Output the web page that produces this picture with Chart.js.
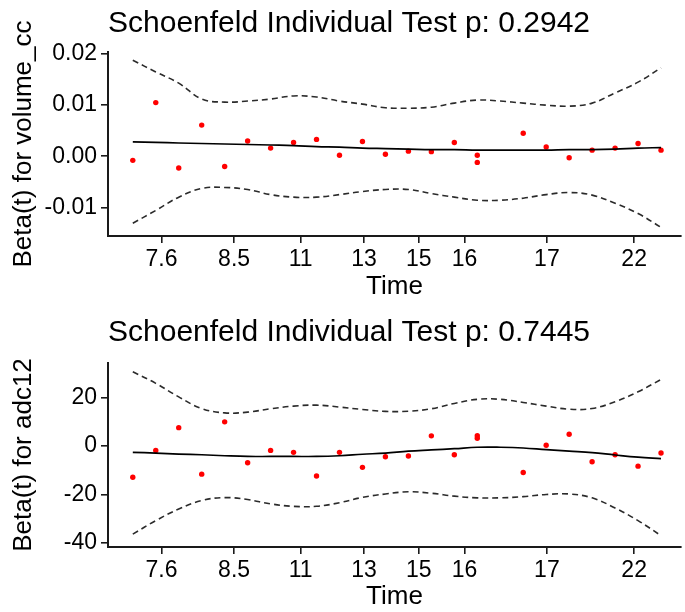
<!DOCTYPE html>
<html>
<head>
<meta charset="utf-8">
<script src="https://cdn.jsdelivr.net/npm/chart.js@4"></script>
<style>
  html, body { margin: 0; padding: 0; background: #fff; overflow: hidden; }
  .panel { width: 685px; height: 306px; position: relative; }
</style>
</head>
<body>
<div class="panel"><canvas id="chartTop"></canvas></div>
<div class="panel"><canvas id="chartBottom"></canvas></div>
<script>
// transformed time (rank) position of each residual; two residuals share rank 16
const pointRank = [1, 2, 3, 4, 5, 6, 7, 8, 9, 10, 11, 12, 13, 14, 15, 16, 16, 18, 19, 20, 21, 22, 23, 24];
const fitRank = [1, 2, 3, 4, 5, 6, 7, 8, 9, 10, 11, 12, 13, 14, 15, 16, 17, 18, 19, 20, 21, 22, 23, 24];

// x tick labels (original time) and where they sit on the transformed axis
const timeTickPos = [2.25, 5.41, 8.31, 11.07, 13.45, 15.44, 19.03, 22.83];
const timeTickLabels = ['7.6', '8.5', '11', '13', '15', '16', '17', '22'];

// volume_cc
const volResid = [-0.0008, 0.0105, -0.0023, 0.0061, -0.0020, 0.0030, 0.0016, 0.0027, 0.0033, 0.0002, 0.0029, 0.0004,
    0.0010, 0.0009, 0.0027, 0.0002, -0.0012, 0.0045, 0.0018, -0.0003, 0.0012, 0.0016, 0.0025, 0.0012];
const volFit = [0.0028, 0.0027, 0.0026, 0.0025, 0.0024, 0.0023, 0.0022, 0.0021, 0.0019, 0.0018, 0.0016, 0.0015,
    0.0014, 0.0013, 0.0013, 0.0012, 0.0012, 0.0012, 0.0012, 0.0013, 0.0013, 0.0014, 0.0016, 0.0017];
const volUpper = [0.0188, 0.0165, 0.0143, 0.0112, 0.0106, 0.0108, 0.0112, 0.0118, 0.0116, 0.0108, 0.0102, 0.0095,
    0.0094, 0.0096, 0.0104, 0.0110, 0.0108, 0.0104, 0.0100, 0.0098, 0.0104, 0.0124, 0.0145, 0.0173];
const volLower = [-0.0131, -0.0106, -0.0080, -0.0063, -0.0061, -0.0065, -0.0075, -0.0080, -0.0080, -0.0075, -0.0069, -0.0065,
    -0.0065, -0.0073, -0.0080, -0.0086, -0.0086, -0.0082, -0.0075, -0.0071, -0.0076, -0.0092, -0.0112, -0.0139];
const volTicks = [-0.01, 0, 0.01, 0.02];

// adc12
const adcResid = [-12.9, -1.8, 7.6, -11.6, 10.0, -6.9, -1.8, -2.6, -12.4, -2.6, -8.8, -4.4,
    -4.1, 4.2, -3.6, 4.3, 3.2, -10.9, 0.3, 4.9, -6.5, -3.6, -8.3, -2.9];
const adcFit = [-2.6, -2.9, -3.3, -3.6, -4.0, -4.3, -4.3, -4.3, -4.3, -4.0, -3.4, -2.9,
    -2.1, -1.6, -1.1, -0.5, -0.5, -0.8, -1.5, -2.1, -2.7, -3.7, -4.6, -5.2];
const adcUpper = [30.7, 25.9, 20.3, 15.5, 13.7, 14.0, 15.4, 16.5, 16.9, 16.1, 15.1, 14.3,
    14.4, 15.4, 17.6, 19.3, 19.3, 18.0, 16.5, 15.2, 15.5, 18.3, 22.4, 27.5];
const adcLower = [-36.4, -30.8, -26.0, -22.5, -21.3, -22.1, -23.9, -24.9, -24.9, -23.4, -21.2, -19.8,
    -18.9, -19.5, -20.7, -21.4, -21.4, -20.9, -20.0, -19.8, -21.4, -25.6, -30.8, -37.0];
const adcTicks = [-40, -20, 0, 20];

const FONT = "'Liberation Sans', Arial, sans-serif";

function pairs(xs, ys) {
    return xs.map(function (x, i) { return { x: x, y: ys[i] }; });
}

function makePanel(id, opts) {
    const dashed = {
        type: 'line',
        borderColor: '#2b2b2b',
        borderWidth: 1.6,
        borderDash: [6, 4],
        pointRadius: 0,
        tension: 0.4,
        fill: false
    };

    new Chart(document.getElementById(id), {
        data: {
            datasets: [
                Object.assign({ data: pairs(fitRank, opts.upper) }, dashed),
                Object.assign({ data: pairs(fitRank, opts.lower) }, dashed),
                {
                    type: 'line',
                    data: pairs(fitRank, opts.fit),
                    borderColor: '#000000',
                    borderWidth: 1.7,
                    pointRadius: 0,
                    tension: 0.4,
                    fill: false
                },
                {
                    type: 'scatter',
                    data: pairs(pointRank, opts.resid),
                    backgroundColor: '#ff0000',
                    borderWidth: 0,
                    pointRadius: 2.7
                }
            ]
        },
        options: {
            responsive: false,
            animation: false,
            layout: { padding: { top: opts.padTop, left: 0, right: 0, bottom: 0 } },
            plugins: {
                legend: { display: false },
                tooltip: { enabled: false },
                title: {
                    display: true,
                    text: opts.title,
                    align: 'start',
                    fullSize: false,
                    color: '#000',
                    font: { family: FONT, size: 30, weight: 'normal' },
                    padding: { top: 4, bottom: opts.titleGap }
                }
            },
            scales: {
                x: {
                    type: 'linear',
                    min: -0.08,
                    max: 24.87,
                    afterBuildTicks: function (scale) {
                        scale.ticks = timeTickPos.map(function (v) { return { value: v }; });
                    },
                    afterFit: function (scale) { scale.height = opts.xHeight; },
                    ticks: {
                        color: '#000',
                        font: { family: FONT, size: 23 },
                        padding: 3,
                        maxRotation: 0,
                        autoSkip: false,
                        callback: function (v, i) { return timeTickLabels[i]; }
                    },
                    grid: { display: true, drawOnChartArea: false, drawTicks: true, tickLength: 7, color: '#1a1a1a', lineWidth: 1.6 },
                    border: { display: true, color: '#1a1a1a', width: 2 },
                    title: {
                        display: true,
                        text: 'Time',
                        color: '#000',
                        font: { family: FONT, size: 26 },
                        padding: { top: 0, bottom: opts.timeGap }
                    }
                },
                y: {
                    type: 'linear',
                    min: opts.yMin,
                    max: opts.yMax,
                    afterBuildTicks: function (scale) {
                        scale.ticks = opts.ticks.map(function (v) { return { value: v }; });
                    },
                    afterFit: function (scale) { scale.width = 108; },
                    ticks: {
                        color: '#000',
                        font: { family: FONT, size: 23 },
                        padding: 4,
                        callback: opts.tickFormat
                    },
                    grid: { display: true, drawOnChartArea: false, drawTicks: true, tickLength: 7, color: '#1a1a1a', lineWidth: 1.6 },
                    border: { display: true, color: '#1a1a1a', width: 2 },
                    title: {
                        display: true,
                        text: opts.yTitle,
                        color: '#000',
                        font: { family: FONT, size: 26 },
                        padding: { top: 8, bottom: 0 }
                    }
                }
            }
        }
    });
}

document.getElementById('chartTop').width = 685;
document.getElementById('chartTop').height = 306;
document.getElementById('chartBottom').width = 685;
document.getElementById('chartBottom').height = 306;

makePanel('chartTop', {
    title: 'Schoenfeld Individual Test p: 0.2942',
    yTitle: 'Beta(t) for volume_cc',
    resid: volResid, fit: volFit, upper: volUpper, lower: volLower,
    ticks: volTicks,
    tickFormat: function (v) { return v.toFixed(2); },
    yMin: -0.0156, yMax: 0.0204,
    padTop: 2, titleGap: 10, xHeight: 70, timeGap: 4
});

makePanel('chartBottom', {
    title: 'Schoenfeld Individual Test p: 0.7445',
    yTitle: 'Beta(t) for adc12',
    resid: adcResid, fit: adcFit, upper: adcUpper, lower: adcLower,
    ticks: adcTicks,
    tickFormat: function (v) { return String(v); },
    yMin: -41.7, yMax: 34.3,
    padTop: 5, titleGap: 12, xHeight: 65, timeGap: 0
});
</script>
</body>
</html>
